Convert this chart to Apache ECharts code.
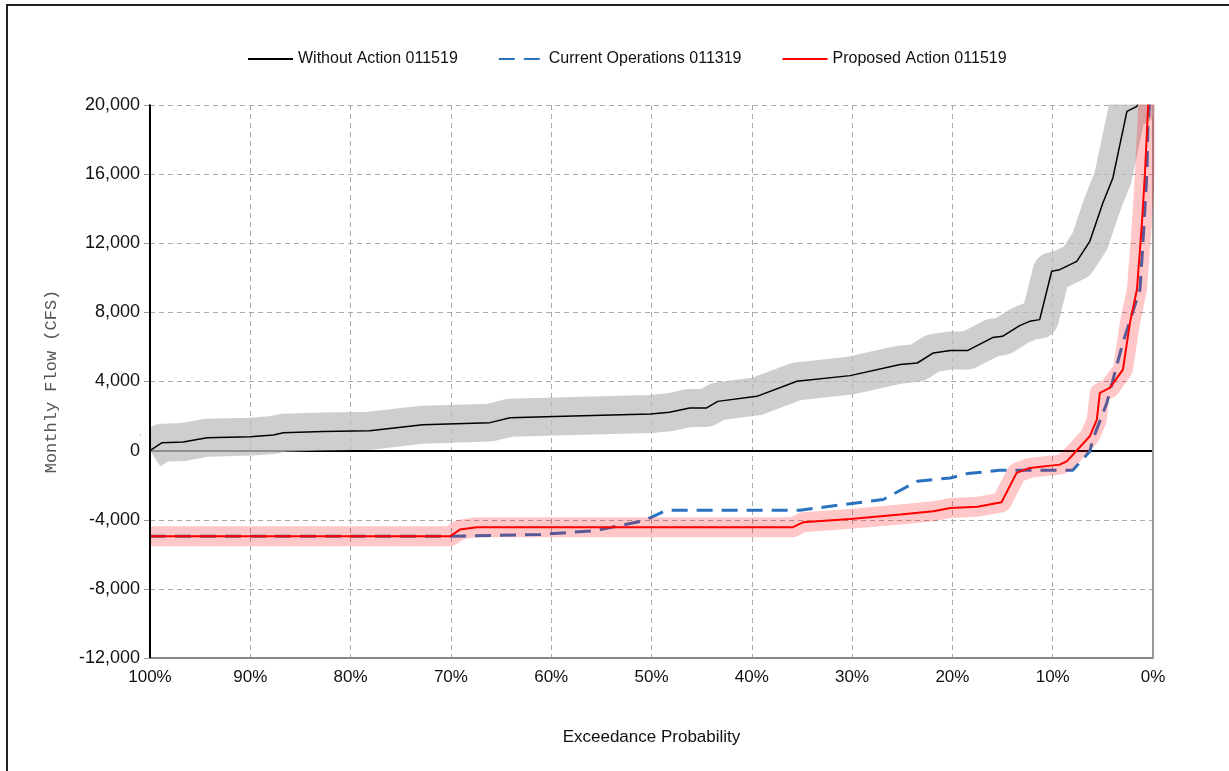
<!DOCTYPE html>
<html>
<head>
<meta charset="utf-8">
<script src="https://cdn.jsdelivr.net/npm/echarts@6/dist/echarts.min.js"></script>
<style>html,body{margin:0;padding:0;background:#fff;}#chart{width:1229px;height:771px;}</style>
</head>
<body>
<div id="chart"></div>
<script>
// Exceedance probability (%) and monthly flow (CFS)
const woX = [100, 98.8, 96.7, 94.3, 90.0, 87.7, 86.7, 82.8, 78.1, 72.8, 66.1, 64.1, 57.8, 50.1, 48.2, 46.2, 44.5, 43.4, 39.5, 35.5, 30.2, 25.2, 23.5, 21.9, 20.2, 18.5, 16.0, 15.0, 13.3, 12.3, 11.3, 10.1, 9.3, 7.6, 6.3, 5.0, 4.0, 2.6, 1.6, 0.8, 0];
const woY = [0, 460, 500, 750, 810, 900, 1040, 1100, 1150, 1500, 1620, 1900, 2000, 2120, 2220, 2470, 2470, 2850, 3140, 4010, 4340, 4980, 5070, 5650, 5790, 5790, 6540, 6615, 7230, 7480, 7580, 10380, 10470, 10950, 12110, 14330, 15780, 19630, 19920, 21500, 26000];

const coX = [100, 70.1, 61.1, 56.1, 55.1, 51.1, 50.1, 48.5, 35.2, 30.2, 26.9, 23.5, 20.2, 18.5, 16.3, 15.3, 8.0, 6.3, 6.0, 4.6, 3.0, 1.3, 1.0, 0.6, 0.5, 0];
const coY = [-4960, -4960, -4850, -4650, -4570, -4090, -3880, -3450, -3450, -3070, -2830, -1770, -1580, -1330, -1200, -1140, -1140, -40, 640, 2770, 6250, 9320, 12040, 16100, 19000, 23000];

const paX = [100, 70.1, 69.1, 67.4, 35.9, 34.9, 30.2, 25.2, 21.9, 20.2, 17.5, 15.1, 13.6, 12.3, 9.3, 8.6, 6.3, 5.6, 5.3, 4.3, 3.0, 2.3, 1.6, 1.1, 0.8, 0.5, 0];
const paY = [-4960, -4960, -4570, -4430, -4430, -4150, -3950, -3700, -3510, -3320, -3250, -2990, -1290, -1000, -810, -620, 830, 1800, 3340, 3630, 4690, 7390, 9320, 13190, 16090, 19730, 24000];

const seriesNames = ['Without Action 011519', 'Current Operations 011319', 'Proposed Action 011519'];
const yTicks = { min: -12000, max: 20000, interval: 4000 };
const xTicks = { min: 0, max: 100, interval: 10 };

const zip = (xs, ys) => xs.map((x, i) => [x, ys[i]]);
const woData = zip(woX, woY);
const coData = zip(coX, coY);
const paData = zip(paX, paY);

const chart = echarts.init(document.getElementById('chart'));
const baseFont = 'Liberation Sans, Arial, sans-serif';
const G = { left: 150, right: 76, top: 105, bottom: 113 };
const W = 1229, H = 771;
const plotR = W - G.right, plotB = H - G.bottom;

// white masks hide the part of the wide band strokes that ECharts' clip expands past the plot edge
const mask = (x, y, w, h) => ({
  type: 'rect', silent: true, z: 50,
  shape: { x: x, y: y, width: w, height: h },
  style: { fill: '#fff', stroke: null }
});

chart.setOption({
  animation: false,
  backgroundColor: '#fff',
  graphic: [
    mask(G.left, 72, W - G.left, G.top - 72 - 0.5),
    mask(plotR + 1.5, 72, W - plotR, plotB - 72),
    mask(G.left - 9, G.top + 300, 8.5, 80),
    {
      type: 'rect', silent: true, z: 100,
      shape: { x: 7, y: 5, width: 1300, height: 900 },
      style: { fill: 'none', stroke: '#222', lineWidth: 2 }
    }
  ],
  legend: {
    data: seriesNames,
    left: 242, top: 46,
    itemWidth: 45, itemHeight: 14, itemGap: 40,
    itemStyle: { opacity: 0 },
    textStyle: { fontFamily: baseFont, fontSize: 16, color: '#111' }
  },
  grid: G,
  xAxis: {
    type: 'value', inverse: true,
    min: xTicks.min, max: xTicks.max, interval: xTicks.interval,
    name: 'Exceedance Probability', nameLocation: 'middle', nameGap: 71,
    nameTextStyle: { fontFamily: baseFont, fontSize: 17, color: '#111' },
    axisLine: { onZero: false, lineStyle: { color: '#888', width: 2 } },
    axisTick: { show: false },
    axisLabel: { formatter: '{value}%', fontFamily: baseFont, fontSize: 17, color: '#111', margin: 11 },
    splitLine: { show: true, lineStyle: { color: '#aaa', type: [5, 4], width: 1 } }
  },
  yAxis: {
    type: 'value',
    min: yTicks.min, max: yTicks.max, interval: yTicks.interval,
    name: 'Monthly Flow (CFS)', nameLocation: 'middle', nameGap: 90, nameRotate: 90,
    nameTextStyle: { fontFamily: 'Liberation Mono, DejaVu Sans Mono, monospace', fontSize: 17, color: '#555' },
    axisLine: { show: true, onZero: false, lineStyle: { color: '#000', width: 2 } },
    axisTick: { show: true, length: 6, inside: false, lineStyle: { color: '#999' } },
    axisLabel: {
      fontFamily: baseFont, fontSize: 18, color: '#111', margin: 10,
      formatter: v => v.toLocaleString('en-US')
    },
    splitLine: { show: true, lineStyle: { color: '#aaa', type: [5, 4], width: 1 } }
  },
  series: [
    {
      name: 'zero', type: 'line', data: [], z: 1, silent: true,
      markLine: {
        z: 1, silent: true, symbol: 'none', label: { show: false },
        data: [
          { yAxis: 0, lineStyle: { color: '#000', type: 'solid', width: 2 } },
          { xAxis: 0, lineStyle: { color: '#999', type: 'solid', width: 2 } }
        ]
      }
    },
    {
      name: 'leftEdge', type: 'line', data: [], z: 60, silent: true,
      markLine: {
        z: 60, silent: true, symbol: 'none', label: { show: false },
        data: [{ xAxis: 100, lineStyle: { color: '#000', type: 'solid', width: 2 } }]
      }
    },
    {
      name: 'woBand', type: 'line', data: woData, z: 2, silent: true,
      showSymbol: false, symbol: 'none',
      lineStyle: { color: 'rgba(190,190,190,0.75)', width: 38, join: 'round', cap: 'butt' }
    },
    {
      name: seriesNames[0], type: 'line', data: woData, z: 3,
      showSymbol: false, symbol: 'none',
      lineStyle: { color: '#000', width: 1.5 }, itemStyle: { color: '#000' }
    },
    {
      name: seriesNames[1], type: 'line', data: coData, z: 4,
      showSymbol: false, symbol: 'none',
      lineStyle: { color: '#2a72c0', width: 3, type: [16, 9] }, itemStyle: { color: '#2a72c0' }
    },
    {
      name: 'paBand', type: 'line', data: paData, z: 5, silent: true,
      showSymbol: false, symbol: 'none',
      lineStyle: { color: 'rgba(255,0,0,0.22)', width: 20, join: 'round', cap: 'butt' }
    },
    {
      name: seriesNames[2], type: 'line', data: paData, z: 6,
      showSymbol: false, symbol: 'none',
      lineStyle: { color: '#ff0000', width: 2 }, itemStyle: { color: '#ff0000' }
    }
  ]
});
</script>
</body>
</html>
